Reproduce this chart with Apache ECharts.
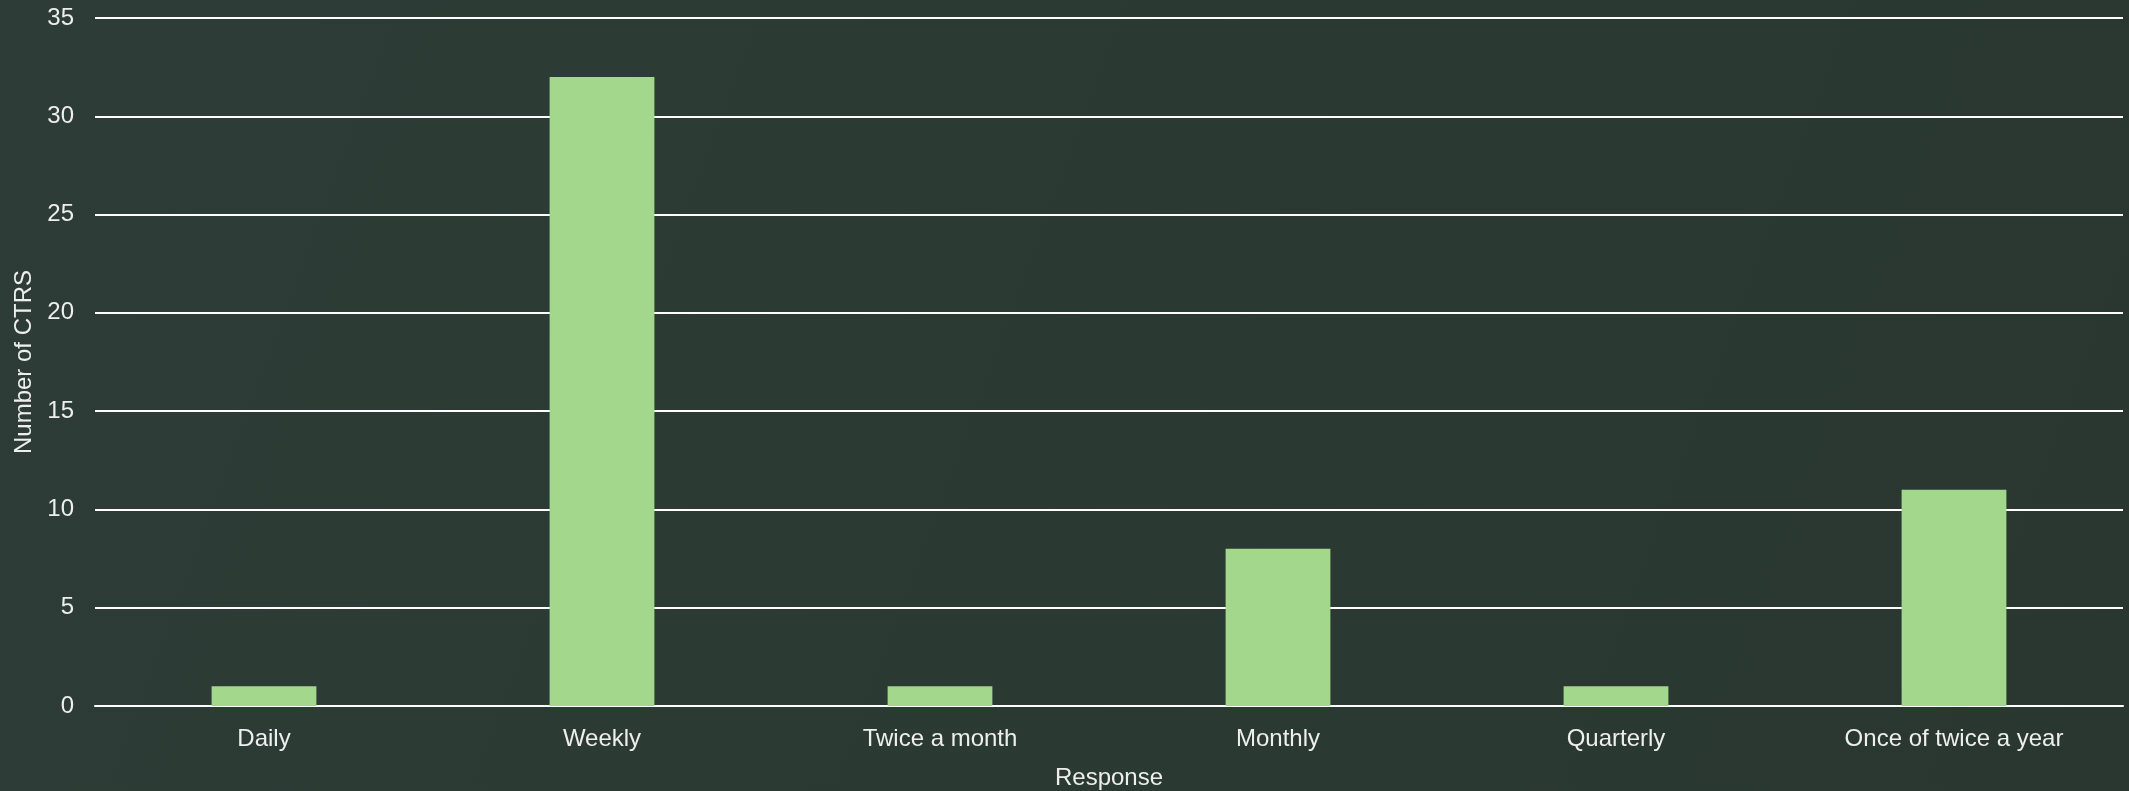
<!DOCTYPE html>
<html>
<head>
<meta charset="utf-8">
<script src="https://cdn.jsdelivr.net/npm/echarts@6/dist/echarts.min.js"></script>
<style>
  html, body { margin: 0; padding: 0; }
  #chart { width: 2129px; height: 791px; }
</style>
</head>
<body>
<div id="chart"></div>
<script>
// responses and counts
const categories = ['Daily', 'Weekly', 'Twice a month', 'Monthly', 'Quarterly', 'Once of twice a year'];
const counts = [1, 32, 1, 8, 1, 11];

const chart = echarts.init(document.getElementById('chart'));
chart.setOption({
  animation: false,
  backgroundColor: {
    type: 'linear', x: 0, y: 0, x2: 1, y2: 1,
    colorStops: [
      { offset: 0, color: '#2e3c37' },
      { offset: 1, color: '#293730' }
    ]
  },
  textStyle: { fontFamily: 'Liberation Sans, Arial, sans-serif' },
  grid: {
    left: 95,
    right: 6,
    top: 18,
    bottom: 85,
    outerBoundsMode: 'none'
  },
  xAxis: {
    type: 'category',
    data: categories,
    name: 'Response',
    nameLocation: 'middle',
    nameGap: 60,
    nameTextStyle: { color: '#eeeeee', fontSize: 24 },
    axisLine: { lineStyle: { color: '#ffffff', width: 2 } },
    axisTick: { show: false },
    axisLabel: { color: '#eeeeee', fontSize: 24, margin: 21 }
  },
  yAxis: {
    type: 'value',
    min: 0,
    max: 35,
    interval: 5,
    name: 'Number of CTRS',
    nameLocation: 'middle',
    nameGap: 53,
    nameTextStyle: { color: '#eeeeee', fontSize: 24 },
    axisLine: { show: false },
    axisTick: { show: false },
    axisLabel: { color: '#eeeeee', fontSize: 24, margin: 21 },
    splitLine: { lineStyle: { color: '#ffffff', width: 2 } }
  },
  series: [{
    type: 'bar',
    data: counts,
    barWidth: '31%',
    itemStyle: { color: '#a2d78c' }
  }]
});
</script>
</body>
</html>
